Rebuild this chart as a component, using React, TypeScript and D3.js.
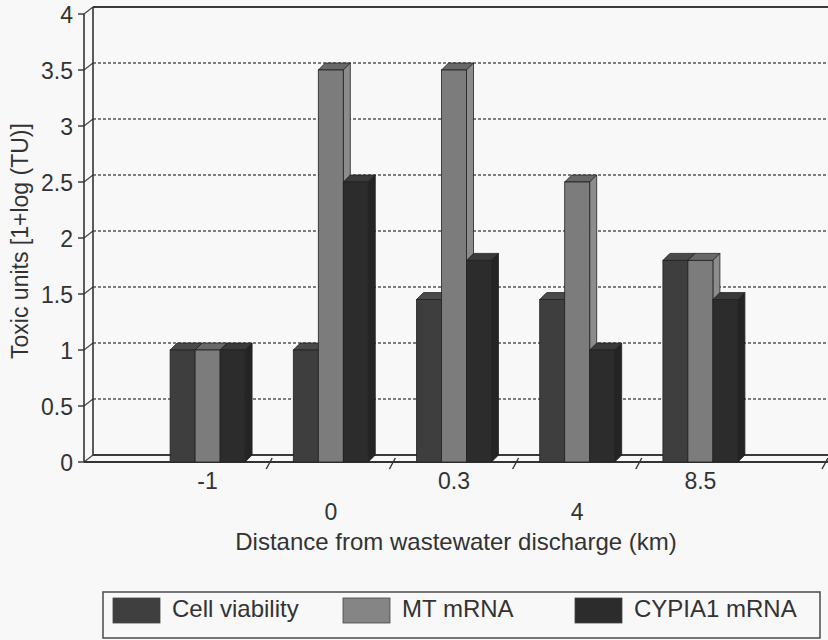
import React from "react";
import * as d3 from "d3";

// Sampling sites (distance from discharge, km) and toxic-unit responses
const categories = ["-1", "0", "0.3", "4", "8.5"];
const cellViability = [1, 1, 1.45, 1.45, 1.8];
const mtMRNA = [1, 3.5, 3.5, 2.5, 1.8];
const cypia1MRNA = [1, 2.5, 1.8, 1, 1.45];
const seriesNames = ["Cell viability", "MT mRNA", "CYPIA1 mRNA"];
const yTicks = [0, 0.5, 1, 1.5, 2, 2.5, 3, 3.5, 4];
const yTickLabels = ["0", "0.5", "1", "1.5", "2", "2.5", "3", "3.5", "4"];

const W = 828;
const H = 640;
const X0 = 84;
const XEND = 828;
const FLOOR = 462;
const TOP = 14;
const DX = 9; // wall depth
const DY = 7;
const BDX = 7; // bar depth
const BDY = 7;
const FONT = "'Liberation Sans', Arial, Helvetica, sans-serif";

const seriesValues = [cellViability, mtMRNA, cypia1MRNA];
const faceColors = [
  { front: "#3e3e3e", top: "#4a4a4a", side: "#303030", swatch: "#3f3f3f" },
  { front: "#7c7c7c", top: "#686868", side: "#8c8c8c", swatch: "#858585" },
  { front: "#2c2c2c", top: "#3a3a3a", side: "#242424", swatch: "#2c2c2c" },
];

export default function App() {
  const y = d3.scaleLinear().domain([0, 4]).range([FLOOR, TOP]);
  const x = d3.scaleBand<string>().domain(categories).range([146, 762]);
  const inner = d3.scaleBand<string>().domain(seriesNames).range([0, 75]);
  const bw = inner.bandwidth();
  const groupOffset = (x.bandwidth() - 75) / 2;

  // boundaries between categories, plus the end of the floor
  const boundaries = categories
    .slice(1)
    .map((c) => x(c) as number)
    .concat([825]);

  const bars: React.ReactNode[] = [];
  categories.forEach((cat, ci) => {
    seriesNames.forEach((s, si) => {
      const v = seriesValues[si][ci];
      const bx = (x(cat) as number) + groupOffset + (inner(s) as number);
      const yv = y(v);
      const c = faceColors[si];
      const top = [
        [bx, yv],
        [bx + BDX, yv - BDY],
        [bx + bw + BDX, yv - BDY],
        [bx + bw, yv],
      ];
      const side = [
        [bx + bw, yv],
        [bx + bw + BDX, yv - BDY],
        [bx + bw + BDX, FLOOR - BDY],
        [bx + bw, FLOOR],
      ];
      bars.push(
        <g key={`${ci}-${si}`}>
          <polygon
            points={top.map((p) => p.join(",")).join(" ")}
            fill={c.top}
            stroke="#222"
            strokeWidth={0.8}
          />
          <polygon
            points={side.map((p) => p.join(",")).join(" ")}
            fill={c.side}
            stroke="#222"
            strokeWidth={0.8}
          />
          <rect
            x={bx}
            y={yv}
            width={bw}
            height={FLOOR - yv}
            fill={c.front}
            stroke="#222"
            strokeWidth={0.8}
          />
        </g>
      );
    });
  });

  const legendX = [113, 343, 575];

  return (
    <svg
      width={W}
      height={H}
      style={{ position: "absolute", left: 0, top: 0, display: "block" }}
      fontFamily={FONT}
    >
      <rect x={0} y={0} width={W} height={H} fill="#f8f8f8" />

      {/* gridlines on the back wall */}
      {yTicks.map((v, i) => {
        const yf = y(v);
        const yb = yf - DY;
        const isEdge = i === 0 || i === yTicks.length - 1;
        return (
          <g key={`g${i}`}>
            <line
              x1={X0 + DX}
              x2={XEND}
              y1={yb}
              y2={yb}
              stroke={isEdge ? "#3a3a3a" : "#555"}
              strokeWidth={isEdge ? 1.8 : 1.4}
              strokeDasharray={isEdge ? undefined : "3 2"}
            />
            <line x1={X0} y1={yf} x2={X0 + DX} y2={yb} stroke="#444" strokeWidth={1.2} />
            <line x1={X0 - 6} y1={yf} x2={X0} y2={yf} stroke="#333" strokeWidth={1.4} />
            <text
              x={73}
              y={yf + 9}
              textAnchor="end"
              fontSize={23}
              fill="#333"
            >
              {yTickLabels[i]}
            </text>
          </g>
        );
      })}

      {/* left wall */}
      <line x1={X0} y1={y(4)} x2={X0} y2={FLOOR} stroke="#333" strokeWidth={1.6} />
      <line x1={X0 + DX} y1={y(4) - DY} x2={X0 + DX} y2={FLOOR - DY} stroke="#333" strokeWidth={1.6} />

      {/* floor */}
      <line x1={X0} y1={FLOOR} x2={XEND} y2={FLOOR} stroke="#333" strokeWidth={1.8} />

      {bars}

      {/* category separators */}
      {boundaries.map((b, i) => (
        <line
          key={`b${i}`}
          x1={b - 3}
          y1={FLOOR + 7}
          x2={b + 3}
          y2={FLOOR - 4}
          stroke="#333"
          strokeWidth={1.4}
        />
      ))}

      {/* category labels, staggered */}
      {categories.map((c, i) => (
        <text
          key={`c${i}`}
          x={(x(c) as number) + x.bandwidth() / 2}
          y={i % 2 === 0 ? 489 : 520}
          textAnchor="middle"
          fontSize={23}
          fill="#333"
        >
          {c}
        </text>
      ))}

      <text x={456} y={550} textAnchor="middle" fontSize={24} fill="#333">
        Distance from wastewater discharge (km)
      </text>

      <text
        transform="translate(28,241) rotate(-90)"
        textAnchor="middle"
        fontSize={23}
        fill="#333"
      >
        Toxic units [1+log (TU)]
      </text>

      {/* legend */}
      <rect x={103} y={592} width={717} height={46} fill="none" stroke="#555" strokeWidth={1.6} />
      {seriesNames.map((s, i) => (
        <g key={`l${i}`}>
          <rect x={legendX[i]} y={598} width={47} height={25} fill={faceColors[i].swatch} stroke="#444" strokeWidth={0.8} />
          <text x={legendX[i] + 59} y={617} fontSize={24} fill="#333">
            {s}
          </text>
        </g>
      ))}
    </svg>
  );
}
